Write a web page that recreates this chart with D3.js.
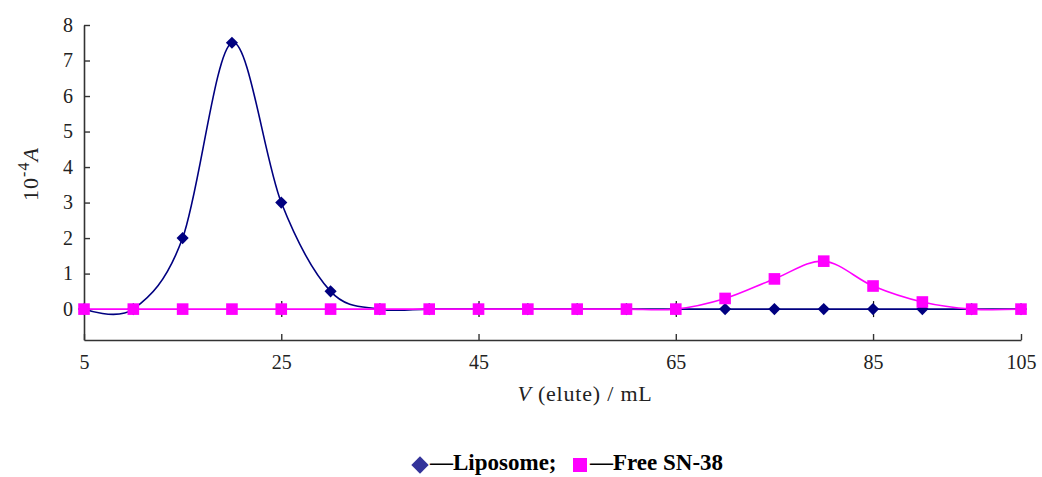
<!DOCTYPE html>
<html>
<head>
<meta charset="utf-8">
<script src="https://cdn.jsdelivr.net/npm/d3@7"></script>
<style>
  body { margin: 0; background: #fff; }
  text { font-family: "Liberation Serif", "Times New Roman", serif; }
</style>
</head>
<body>
<svg id="chart" width="1042" height="477"></svg>
<script>
// elution volumes (mL), one reading every 5 mL
var volumes = [5, 10, 15, 20, 25, 30, 35, 40, 45, 50, 55, 60, 65, 70, 75, 80, 85, 90, 95, 100];
// absorbance, 10^-4 A
var liposome = [0, 0, 2, 7.5, 3, 0.5, 0, 0, 0, 0, 0, 0, 0, 0, 0, 0, 0, 0, 0, 0];
var freeSN38 = [0, 0, 0, 0, 0, 0, 0, 0, 0, 0, 0, 0, 0, 0.3, 0.85, 1.35, 0.65, 0.2, 0, 0];

var xTickValues = [5, 25, 45, 65, 85, 100];
var xTickLabels = ["5", "25", "45", "65", "85", "105"];
var yTickValues = [0, 1, 2, 3, 4, 5, 6, 7, 8];

var svg = d3.select("#chart");

var x = d3.scaleLinear().domain([5, 100]).range([84, 1021]);
var y = d3.scaleLinear().domain([-0.87, 8]).range([340, 25]);

/**
 * Axes: ticks point inward, as in the original spreadsheet chart.
 */
var yAxis = svg.append("g")
    .attr("transform", "translate(" + x(5) + ",0)")
    .call(d3.axisLeft(y)
        .tickValues(yTickValues)
        .tickSizeInner(-6)
        .tickSizeOuter(0)
        .tickPadding(11));

var xAxis = svg.append("g")
    .attr("transform", "translate(0," + y(-0.87) + ")")
    .call(d3.axisBottom(x)
        .tickValues(xTickValues)
        .tickFormat(function (d, i) { return xTickLabels[i]; })
        .tickSizeInner(-6)
        .tickSizeOuter(0)
        .tickPadding(15));

[yAxis, xAxis].forEach(function (g) {
    g.select(".domain").attr("stroke", "#333").attr("stroke-width", 1.6);
    g.selectAll(".tick line").attr("stroke", "#333").attr("stroke-width", 1.4);
    g.selectAll(".tick text")
        .attr("fill", "#222")
        .style("font-size", "20px");
});

// small cross ticks sitting on the zero line
svg.append("g")
    .attr("transform", "translate(0," + (y(0) - 8) + ")")
    .call(d3.axisBottom(x)
        .tickValues([25, 45, 65, 85])
        .tickFormat("")
        .tickSizeInner(16)
        .tickSizeOuter(0))
    .call(function (g) {
        g.select(".domain").remove();
        g.selectAll(".tick line").attr("stroke", "#111").attr("stroke-width", 1.2);
    });

/**
 * Series: smoothed lines (Excel style smoothing = uniform Catmull-Rom)
 */
var line = d3.line()
    .x(function (d) { return x(d[0]); })
    .y(function (d) { return y(d[1]); })
    .curve(d3.curveCardinal.tension(0));

var series = [
    { name: "Liposome", values: liposome, color: "#000080",
      symbol: d3.symbol(d3.symbolSquare, 74), rotate: 45 },
    { name: "Free SN-38", values: freeSN38, color: "#ff00ff",
      symbol: d3.symbol(d3.symbolSquare, 135), rotate: 0 }
];

series.forEach(function (s) {
    var pts = volumes.map(function (v, i) { return [v, s.values[i]]; });
    var g = svg.append("g").attr("class", "series");
    g.append("path")
        .attr("d", line(pts))
        .attr("fill", "none")
        .attr("stroke", s.color)
        .attr("stroke-width", 1.6);
    g.selectAll("path.marker")
        .data(pts)
        .enter().append("path")
        .attr("class", "marker")
        .attr("d", s.symbol)
        .attr("transform", function (d) {
            return "translate(" + x(d[0]) + "," + y(d[1]) + ") rotate(" + s.rotate + ")";
        })
        .attr("fill", s.color);
});

/**
 * Axis titles
 */
var ylab = svg.append("text")
    .attr("transform", "translate(38,174) rotate(-90)")
    .attr("text-anchor", "middle")
    .attr("fill", "#222")
    .style("font-size", "22px")
    .style("letter-spacing", "1px");
ylab.append("tspan").text("10");
ylab.append("tspan").attr("dy", -9).style("font-size", "16px").text("-4");
ylab.append("tspan").attr("dy", 9).style("font-style", "italic").text("A");

var xlab = svg.append("text")
    .attr("x", 585)
    .attr("y", 401)
    .attr("text-anchor", "middle")
    .attr("fill", "#222")
    .style("font-size", "22px")
    .style("letter-spacing", "0.8px");
xlab.append("tspan").style("font-style", "italic").text("V");
xlab.append("tspan").text(" (elute) / mL");

/**
 * Legend
 */
var legend = svg.append("g").attr("class", "legend");
legend.append("path")
    .attr("d", d3.symbol(d3.symbolSquare, 150)())
    .attr("transform", "translate(420,465) rotate(45)")
    .attr("fill", "#333399");
legend.append("text")
    .attr("x", 430).attr("y", 470)
    .style("font-size", "23px").style("font-weight", "bold")
    .text("—Liposome;");
legend.append("rect")
    .attr("x", 573).attr("y", 458).attr("width", 14).attr("height", 14)
    .attr("fill", "#ff00ff");
legend.append("text")
    .attr("x", 590).attr("y", 470)
    .style("font-size", "23px").style("font-weight", "bold")
    .text("—Free SN-38");
</script>
</body>
</html>
